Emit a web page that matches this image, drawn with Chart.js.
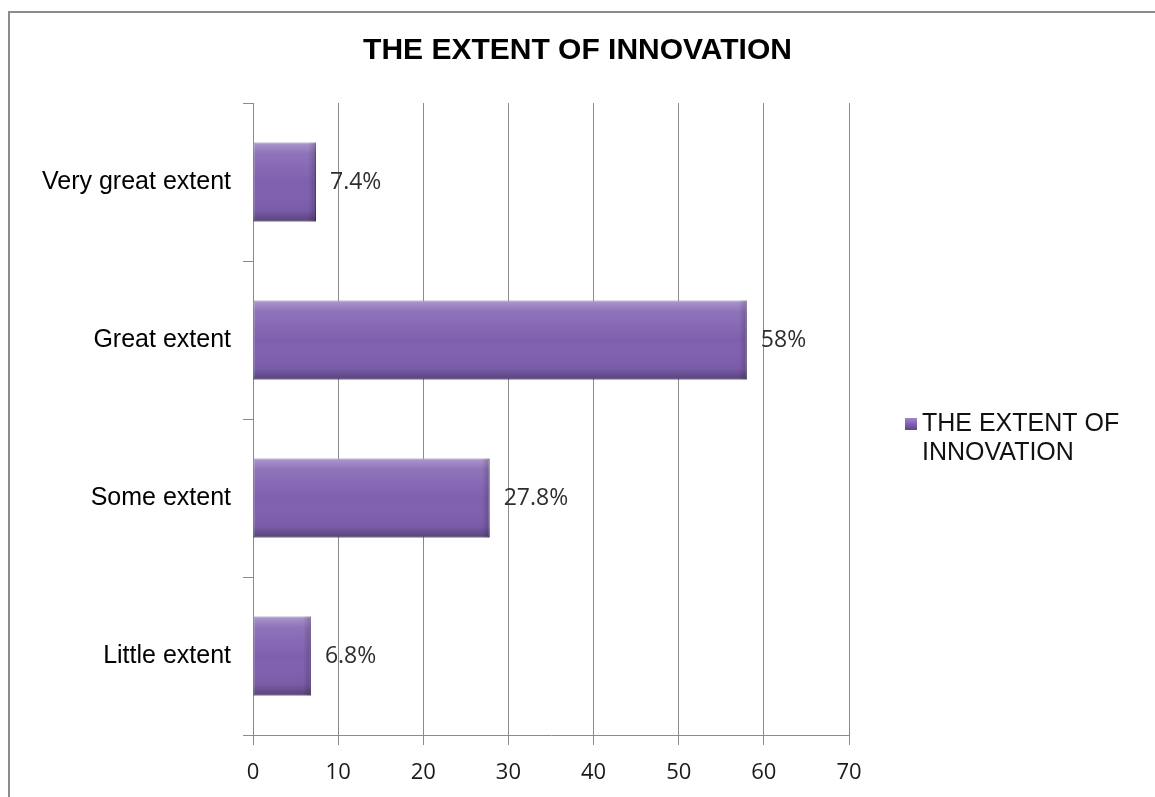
<!DOCTYPE html>
<html>
<head>
<meta charset="utf-8">
<script src="https://cdn.jsdelivr.net/npm/chart.js@4"></script>
<style>
  html, body { margin: 0; padding: 0; background: #fff; }
  #wrap { position: relative; width: 1155px; height: 797px; }
  #frame {
    position: absolute; left: 8px; top: 11px; right: 0; bottom: 0;
    border-left: 2px solid #8c8c8c; border-top: 2px solid #8c8c8c;
    pointer-events: none;
  }
</style>
</head>
<body>
<div id="wrap">
  <canvas id="chart" width="1155" height="797"></canvas>
  <div id="frame"></div>
</div>
<script>
// Chart data
const categories = ['Very great extent', 'Great extent', 'Some extent', 'Little extent'];
const percentages = [7.4, 58, 27.8, 6.8];
const valueLabels = ['7.4%', '58%', '27.8%', '6.8%'];
const seriesName = ['THE EXTENT OF', 'INNOVATION'];
const chartTitle = 'THE EXTENT OF INNOVATION';

const textFont = '"Liberation Sans", Arial, sans-serif';
const numberFont = '"Open Sans", "Liberation Sans", sans-serif';

// Title centred on the whole picture
const pageTitlePlugin = {
  id: 'pageTitle',
  afterDraw(chart) {
    const ctx = chart.ctx;
    ctx.save();
    ctx.font = 'bold 30px ' + textFont;
    ctx.fillStyle = '#000';
    ctx.textAlign = 'center';
    ctx.textBaseline = 'middle';
    ctx.fillText(chartTitle, chart.width / 2, 51);
    ctx.restore();
  }
};

// Value labels to the right of each bar
const valueLabelPlugin = {
  id: 'valueLabels',
  afterDatasetsDraw(chart) {
    const ctx = chart.ctx;
    const meta = chart.getDatasetMeta(0);
    ctx.save();
    ctx.font = '23px ' + numberFont;
    ctx.fillStyle = '#2e2e2e';
    ctx.textAlign = 'left';
    ctx.textBaseline = 'middle';
    meta.data.forEach((bar, i) => {
      ctx.fillText(valueLabels[i], bar.x + 14, bar.y);
    });
    ctx.restore();
  }
};

// Bevel shading on top of the flat bars
const bevelPlugin = {
  id: 'bevel',
  afterDatasetDraw(chart) {
    const ctx = chart.ctx;
    const meta = chart.getDatasetMeta(0);
    ctx.save();
    meta.data.forEach(bar => {
      const top = bar.y - bar.height / 2;
      const left = bar.base;
      const w = bar.x - bar.base;
      const h = bar.height;
      const g = ctx.createLinearGradient(0, top, 0, top + h);
      g.addColorStop(0, 'rgba(255,255,255,0.35)');
      g.addColorStop(0.14, 'rgba(255,255,255,0.12)');
      g.addColorStop(0.5, 'rgba(255,255,255,0)');
      g.addColorStop(0.86, 'rgba(0,0,0,0.05)');
      g.addColorStop(1, 'rgba(0,0,0,0.3)');
      ctx.fillStyle = g;
      ctx.fillRect(left, top, w, h);
      const gr = ctx.createLinearGradient(left + w - 8, 0, left + w, 0);
      gr.addColorStop(0, 'rgba(0,0,0,0)');
      gr.addColorStop(1, 'rgba(0,0,0,0.2)');
      ctx.fillStyle = gr;
      ctx.fillRect(left + w - 8, top, 8, h);
    });
    ctx.restore();
  }
};

// Legend on the right, two lines
const sideLegendPlugin = {
  id: 'sideLegend',
  afterDraw(chart) {
    const ctx = chart.ctx;
    const area = chart.chartArea;
    const x = area.right + 56;
    const y = (area.top + area.bottom) / 2 + 5;
    ctx.save();
    const g = ctx.createLinearGradient(0, y - 6, 0, y + 6);
    g.addColorStop(0, '#a286cf');
    g.addColorStop(0.5, '#7f60b0');
    g.addColorStop(1, '#5d4490');
    ctx.fillStyle = g;
    ctx.fillRect(x, y - 6, 12, 12);
    ctx.font = '25px ' + textFont;
    ctx.fillStyle = '#111';
    ctx.textAlign = 'left';
    ctx.textBaseline = 'middle';
    ctx.fillText(seriesName[0], x + 17, y);
    ctx.fillText(seriesName[1], x + 17, y + 29);
    ctx.restore();
  }
};

const ctx = document.getElementById('chart').getContext('2d');
new Chart(ctx, {
  type: 'bar',
  data: {
    labels: categories,
    datasets: [{
      label: seriesName.join(' '),
      data: percentages,
      backgroundColor: '#7f60b0',
      borderColor: '#5e4590',
      borderWidth: 1,
      borderSkipped: false,
      barPercentage: 0.5,
      categoryPercentage: 1
    }]
  },
  options: {
    indexAxis: 'y',
    responsive: false,
    animation: false,
    layout: { padding: { left: 0, right: 306, top: 103, bottom: 0 } },
    plugins: {
      legend: { display: false },
      tooltip: { enabled: false },
      title: { display: false }
    },
    scales: {
      x: {
        min: 0,
        max: 70,
        ticks: {
          stepSize: 10,
          color: '#1a1a1a',
          padding: 15,
          font: { family: numberFont, size: 22 }
        },
        grid: {
          color: '#8a8a8a',
          lineWidth: 1,
          tickLength: 10,
          tickColor: '#8a8a8a'
        },
        border: { color: '#8a8a8a' },
        afterFit(scale) { scale.height = 62; }
      },
      y: {
        ticks: {
          color: '#000',
          padding: 12,
          font: { family: textFont, size: 25 }
        },
        grid: {
          drawOnChartArea: false,
          tickLength: 10,
          tickColor: '#8a8a8a',
          offset: true
        },
        border: { color: '#8a8a8a' },
        afterFit(scale) { scale.width = 253; }
      }
    }
  },
  plugins: [bevelPlugin, valueLabelPlugin, sideLegendPlugin, pageTitlePlugin]
});
</script>
</body>
</html>
